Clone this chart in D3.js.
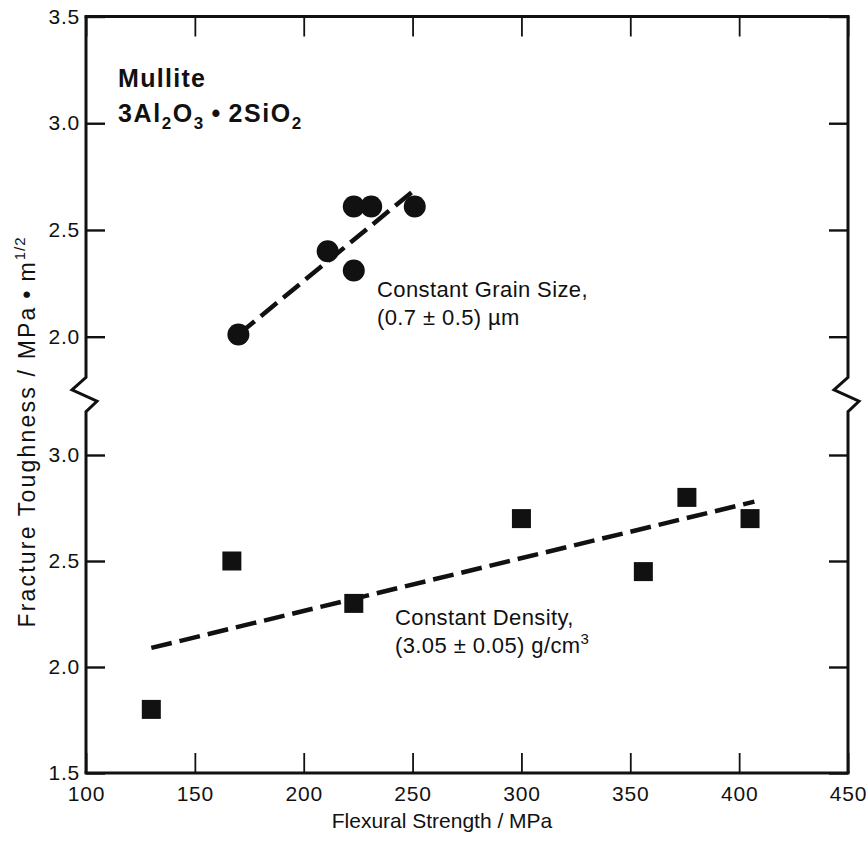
<!DOCTYPE html>
<html lang="en">
  <meta charset="utf-8">
  <style type="text/css">
    body { margin: 0; background: #fff; }
    text { font-family: "Liberation Sans", Arial, Helvetica, sans-serif; fill: #111; }
  </style>
  <script src="https://d3js.org/d3.v7.min.js"></script>
  <body>
    <div id="chart"></div>
    <script type="text/javascript">
      var w = 866;
      var h = 847;

      // constant grain size series (circles) + its fit line
      var grainX = [170, 211, 223, 223, 231, 251];
      var grainY = [2.01, 2.40, 2.31, 2.61, 2.61, 2.61];
      var grainFitX = [170, 250];
      var grainFitY = [2.01, 2.68];

      // constant density series (squares) + its fit line
      var densX = [130, 167, 223, 300, 356, 376, 405];
      var densY = [1.80, 2.50, 2.30, 2.70, 2.45, 2.80, 2.70];
      var densFitX = [130, 407];
      var densFitY = [2.09, 2.78];

      // ticks
      var xTicks = [100, 150, 200, 250, 300, 350, 400, 450];
      var topTicks = [2.0, 2.5, 3.0, 3.5];
      var botTicks = [1.5, 2.0, 2.5, 3.0];

      var x = d3.scaleLinear().domain([100, 450]).range([86, 848]);
      // broken y axis: two panels sharing one frame
      var yTop = d3.scaleLinear().domain([2.0, 3.5]).range([336.7, 16.5]);
      var yBot = d3.scaleLinear().domain([1.5, 3.0]).range([773, 455]);

      var svg = d3.select("#chart").append("svg")
        .attr("width", w)
        .attr("height", h);

      svg.append("rect")
        .attr("width", w)
        .attr("height", h)
        .attr("fill", "white");

      var fmt = d3.format(".1f");

      // left axes (labels), right axes (ticks only)
      [[yTop, topTicks], [yBot, botTicks]].forEach(function (p) {
        var gl = svg.append("g")
          .attr("transform", "translate(" + x(100) + ",0)")
          .call(d3.axisLeft(p[0]).tickValues(p[1]).tickSize(-19).tickPadding(6).tickFormat(fmt))
          .attr("font-size", 21);
        gl.select(".domain").remove();
        gl.selectAll("text").attr("letter-spacing", 0.8);
        gl.selectAll(".tick line").attr("stroke", "#111").attr("stroke-width", 2.4);

        var gr = svg.append("g")
          .attr("transform", "translate(" + x(450) + ",0)")
          .call(d3.axisRight(p[0]).tickValues(p[1]).tickSize(-19).tickFormat(""));
        gr.select(".domain").remove();
        gr.selectAll(".tick line").attr("stroke", "#111").attr("stroke-width", 2.4);
      });

      var gb = svg.append("g")
        .attr("transform", "translate(0," + yBot(1.5) + ")")
        .call(d3.axisBottom(x).tickValues(xTicks).tickSize(-20).tickPadding(13))
        .attr("font-size", 21);
      gb.select(".domain").remove();
      gb.selectAll("text").attr("letter-spacing", 0.8);
      gb.selectAll(".tick line").attr("stroke", "#111").attr("stroke-width", 1.8);

      var gt = svg.append("g")
        .attr("transform", "translate(0," + yTop(3.5) + ")")
        .call(d3.axisTop(x).tickValues(xTicks).tickSize(-20).tickFormat(""));
      gt.select(".domain").remove();
      gt.selectAll(".tick line").attr("stroke", "#111").attr("stroke-width", 1.8);

      // frame with the zigzag break on both sides
      var brkA = yTop(1.81);
      var brkB = yBot(3.205);
      function side(x0) {
        return [[x0, yTop(3.5)], [x0, brkA], [x0 - 14, brkA + 12.5],
                [x0 + 11, brkA + 24], [x0, brkB], [x0, yBot(1.5)]];
      }
      var line = d3.line();
      svg.append("path").attr("d", line(side(x(100)))).attr("fill", "none")
        .attr("stroke", "#111").attr("stroke-width", 3);
      svg.append("path").attr("d", line(side(x(450)))).attr("fill", "none")
        .attr("stroke", "#111").attr("stroke-width", 3);
      svg.append("path").attr("d", line([[x(100) - 1.5, yTop(3.5)], [x(450) + 1.5, yTop(3.5)]]))
        .attr("stroke", "#111").attr("stroke-width", 3);
      svg.append("path").attr("d", line([[x(100) - 1.5, yBot(1.5)], [x(450) + 1.5, yBot(1.5)]]))
        .attr("stroke", "#111").attr("stroke-width", 3);

      // fit lines
      var fitTop = d3.line().x((d, i) => x(grainFitX[i])).y((d) => yTop(d));
      var fitBot = d3.line().x((d, i) => x(densFitX[i])).y((d) => yBot(d));
      svg.append("path").attr("d", fitTop(grainFitY))
        .attr("fill", "none").attr("stroke", "#111").attr("stroke-width", 4.5)
        .attr("stroke-dasharray", "21 8");
      svg.append("path").attr("d", fitBot(densFitY))
        .attr("fill", "none").attr("stroke", "#111").attr("stroke-width", 4.5)
        .attr("stroke-dasharray", "21 8");

      // points
      svg.selectAll("circle.grain")
        .data(grainY)
        .enter()
        .append("circle")
          .attr("class", "grain")
          .attr("cx", (d, i) => x(grainX[i]))
          .attr("cy", (d) => yTop(d))
          .attr("r", 11)
          .attr("fill", "#111");

      var sq = 19;
      svg.selectAll("rect.dens")
        .data(densY)
        .enter()
        .append("rect")
          .attr("class", "dens")
          .attr("x", (d, i) => x(densX[i]) - sq / 2)
          .attr("y", (d) => yBot(d) - sq / 2)
          .attr("width", sq)
          .attr("height", sq)
          .attr("fill", "#111");

      // axis titles
      svg.append("text")
        .attr("x", 442)
        .attr("y", 828)
        .attr("text-anchor", "middle")
        .attr("font-size", 21)
        .text("Flexural Strength / MPa");

      var yt = svg.append("text")
        .attr("transform", "translate(35,432)rotate(-90)")
        .attr("text-anchor", "middle")
        .attr("font-size", 23)
        .attr("letter-spacing", 2.2);
      yt.append("tspan").text("Fracture Toughness / MPa\u2009\u2022\u2009m");
      yt.append("tspan").attr("dy", -10).attr("font-size", 15).attr("letter-spacing", 1).text("1/2");

      // title block
      svg.append("text")
        .attr("x", 118).attr("y", 87)
        .attr("font-size", 25).attr("font-weight", "bold").attr("letter-spacing", 1.3)
        .text("Mullite");
      var f = svg.append("text")
        .attr("x", 118).attr("y", 122)
        .attr("font-size", 25).attr("font-weight", "bold").attr("letter-spacing", 1.6);
      var parts = [["3Al", 0], ["2", 1], ["O", 0], ["3", 1], ["\u2009\u2022\u2009", 0], ["2SiO", 0], ["2", 1]];
      var prev = 0;
      parts.forEach(function (p) {
        var t = f.append("tspan").text(p[0]);
        var shift = p[1] ? 7 : 0;
        t.attr("dy", shift - prev);
        if (p[1]) t.attr("font-size", 17);
        prev = shift;
      });

      // annotations
      svg.append("text").attr("x", 377).attr("y", 297).attr("font-size", 22)
        .attr("letter-spacing", 0.4)
        .text("Constant Grain Size,");
      svg.append("text").attr("x", 377).attr("y", 325).attr("font-size", 22)
        .attr("letter-spacing", 0.4)
        .text("(0.7 \u00b1 0.5) \u00b5m");

      svg.append("text").attr("x", 395).attr("y", 625).attr("font-size", 22)
        .attr("letter-spacing", 0.4)
        .text("Constant Density,");
      var cd = svg.append("text").attr("x", 395).attr("y", 653).attr("font-size", 22)
        .attr("letter-spacing", 0.4);
      cd.append("tspan").text("(3.05 \u00b1 0.05) g/cm");
      cd.append("tspan").attr("dy", -9).attr("font-size", 15).text("3");
    </script>
  </body>
</html>
